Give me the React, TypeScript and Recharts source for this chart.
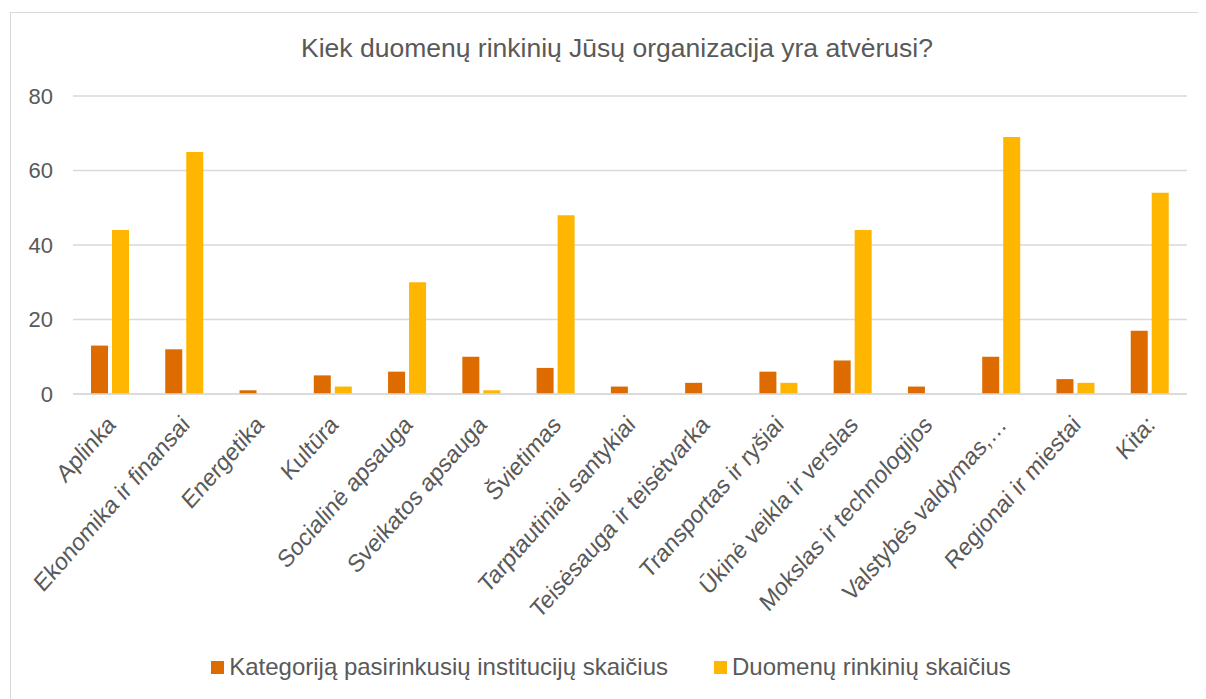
import { BarChart, Bar, XAxis, YAxis, CartesianGrid, Legend } from 'recharts';

const categories = [
  'Aplinka',
  'Ekonomika ir finansai',
  'Energetika',
  'Kultūra',
  'Socialinė apsauga',
  'Sveikatos apsauga',
  'Švietimas',
  'Tarptautiniai santykiai',
  'Teisėsauga ir teisėtvarka',
  'Transportas ir ryšiai',
  'Ūkinė veikla ir verslas',
  'Mokslas ir technologijos',
  'Valstybės valdymas,…',
  'Regionai ir miestai',
  'Kita:',
];

const institutions = [13, 12, 1, 5, 6, 10, 7, 2, 3, 6, 9, 2, 10, 4, 17];
const datasets = [44, 65, 0, 2, 30, 1, 48, 0, 0, 3, 44, 0, 69, 3, 54];
const yTicks = [0, 20, 40, 60, 80];

const seriesNames = ['Kategoriją pasirinkusių institucijų skaičius', 'Duomenų rinkinių skaičius'];
const colors = ['#DD6B00', '#FFB600'];

const data = categories.map((name, i) => ({
  name,
  institutions: institutions[i],
  datasets: datasets[i],
}));

const FONT = 'Arial, "Liberation Sans", sans-serif';
const TEXT = '#595959';

// labels in the source look slightly stretched vertically, so a touch of y-scale
function AngledTick({ x, y, payload }: any) {
  return (
    <g transform={`translate(${x + 1},${y + 18}) scale(1,1.13)`}>
      <text
        x={0}
        y={0}
        dy="0.35em"
        textAnchor="end"
        transform="rotate(-45)"
        fill={TEXT}
        fontSize={22}
        fontFamily={FONT}
      >
        {payload.value}
      </text>
    </g>
  );
}

function LegendBox() {
  return (
    <div
      style={{
        display: 'flex',
        justifyContent: 'center',
        alignItems: 'center',
        height: 30,
        paddingLeft: 12,
        fontFamily: FONT,
        fontSize: 24,
        color: TEXT,
      }}
    >
      {seriesNames.map((n, i) => (
        <div key={n} style={{ display: 'flex', alignItems: 'center', marginRight: i === 0 ? 46 : 0 }}>
          <span style={{ display: 'inline-block', width: 13, height: 13, background: colors[i], marginRight: 5 }} />
          <span>{n}</span>
        </div>
      ))}
    </div>
  );
}

export default function App() {
  return (
    <div style={{ position: 'relative', width: 1190, height: 691, overflow: 'hidden' }}>
      <div
        style={{
          position: 'absolute',
          left: 2,
          top: 4,
          width: 1240,
          height: 760,
          border: '1.5px solid #d9d9d9',
          boxSizing: 'border-box',
        }}
      />
      <div
        style={{
          position: 'absolute',
          top: 24,
          left: 14,
          width: 1190,
          textAlign: 'center',
          fontFamily: FONT,
          fontSize: 26.5,
          color: TEXT,
          lineHeight: '32px',
        }}
      >
        Kiek duomenų rinkinių Jūsų organizacija yra atvėrusi?
      </div>
      <div style={{ position: 'absolute', top: 0, left: 0 }}>
        <BarChart
          width={1190}
          height={691}
          data={data}
          margin={{ top: 88, right: 11, bottom: 17, left: 15 }}
          barSize={17}
          barGap={4}
        >
          <CartesianGrid vertical={false} stroke="#d9d9d9" strokeWidth={1.5} />
          <XAxis
            dataKey="name"
            interval={0}
            height={258}
            tickLine={false}
            axisLine={{ stroke: '#d9d9d9', strokeWidth: 1.5 }}
            tick={<AngledTick />}
          />
          <YAxis
            domain={[0, 80]}
            ticks={yTicks}
            width={50}
            axisLine={false}
            tickLine={false}
            tickSize={0}
            tickMargin={20}
            tick={{ fill: TEXT, fontSize: 22, fontFamily: FONT }}
          />
          <Legend verticalAlign="bottom" content={<LegendBox />} />
          <Bar dataKey="institutions" name={seriesNames[0]} fill={colors[0]} isAnimationActive={false} />
          <Bar dataKey="datasets" name={seriesNames[1]} fill={colors[1]} isAnimationActive={false} />
        </BarChart>
      </div>
    </div>
  );
}
